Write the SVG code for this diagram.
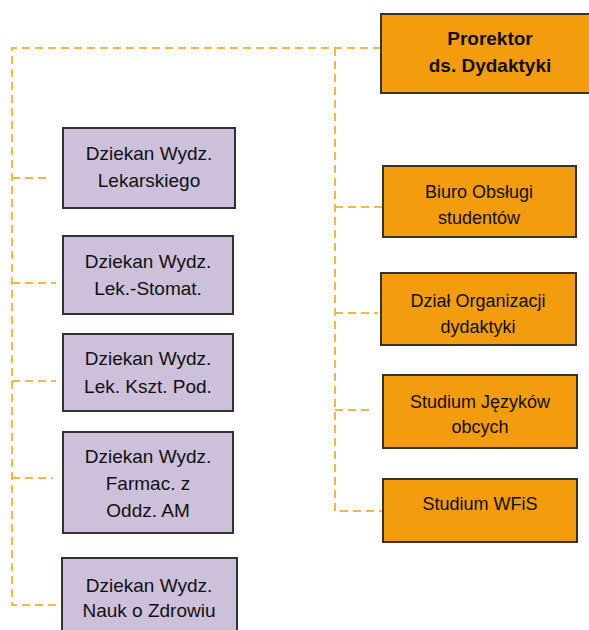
<svg xmlns="http://www.w3.org/2000/svg" width="589" height="630" viewBox="0 0 589 630">
<style>
.conn{fill:none;stroke:#FBB54A;stroke-width:2;stroke-dasharray:8 5}
.lav{fill:#CCC0DA;stroke:#333;stroke-width:2}
.org{fill:#F39C0D;stroke:#333;stroke-width:2}
text{font-family:"Liberation Sans",Arial,sans-serif;fill:#111;text-anchor:middle}
.l{font-size:19px}
.r{font-size:18px}
.b{font-size:19px;font-weight:bold}
</style>
<rect width="589" height="630" fill="#fff"/>
<g id="connectors">
<path class="conn" d="M381 48 H12 V605 H62"/>
<path class="conn" d="M335 48 V511 H383"/>
<path class="conn" d="M12 178 H50"/>
<path class="conn" d="M12 283 H56"/>
<path class="conn" d="M12 381 H56"/>
<path class="conn" d="M12 478 H53"/>
<path class="conn" d="M335 207 H383"/>
<path class="conn" d="M335 313 H378"/>
<path class="conn" d="M335 410 H372"/>
</g>
<g id="prorektor">
<rect class="org" x="381" y="14" width="218" height="79"/>
<text class="b" x="490" y="45">Prorektor</text>
<text class="b" x="490" y="72">ds. Dydaktyki</text>
</g>
<g id="dziekan-lek">
<rect class="lav" x="63" y="128" width="172" height="80"/>
<text class="l" x="149" y="160">Dziekan Wydz.</text>
<text class="l" x="149" y="187">Lekarskiego</text>
</g>
<g id="dziekan-stomat">
<rect class="lav" x="63" y="236" width="170" height="78"/>
<text class="l" x="148" y="268">Dziekan Wydz.</text>
<text class="l" x="148" y="295">Lek.-Stomat.</text>
</g>
<g id="dziekan-kszt">
<rect class="lav" x="63" y="334" width="170" height="77"/>
<text class="l" x="148" y="365">Dziekan Wydz.</text>
<text class="l" x="148" y="393">Lek. Kszt. Pod.</text>
</g>
<g id="dziekan-farmac">
<rect class="lav" x="63" y="432" width="170" height="101"/>
<text class="l" x="148" y="463">Dziekan Wydz.</text>
<text class="l" x="148" y="490">Farmac. z</text>
<text class="l" x="148" y="517">Oddz. AM</text>
</g>
<g id="dziekan-zdrowie">
<rect class="lav" x="62" y="558" width="175" height="90"/>
<text class="l" x="149" y="592">Dziekan Wydz.</text>
<text class="l" x="149" y="617">Nauk o Zdrowiu</text>
</g>
<g id="biuro">
<rect class="org" x="383" y="166" width="193" height="71"/>
<text class="r" x="479" y="198">Biuro Obsługi</text>
<text class="r" x="479" y="224">studentów</text>
</g>
<g id="dzial">
<rect class="org" x="381" y="273" width="195" height="72"/>
<text class="r" x="478" y="307">Dział Organizacji</text>
<text class="r" x="478" y="333">dydaktyki</text>
</g>
<g id="jezyki">
<rect class="org" x="383" y="375" width="194" height="73"/>
<text class="r" x="480" y="408">Studium Języków</text>
<text class="r" x="480" y="433">obcych</text>
</g>
<g id="wfis">
<rect class="org" x="383" y="479" width="194" height="63"/>
<text class="r" x="480" y="510">Studium WFiS</text>
</g>
</svg>
